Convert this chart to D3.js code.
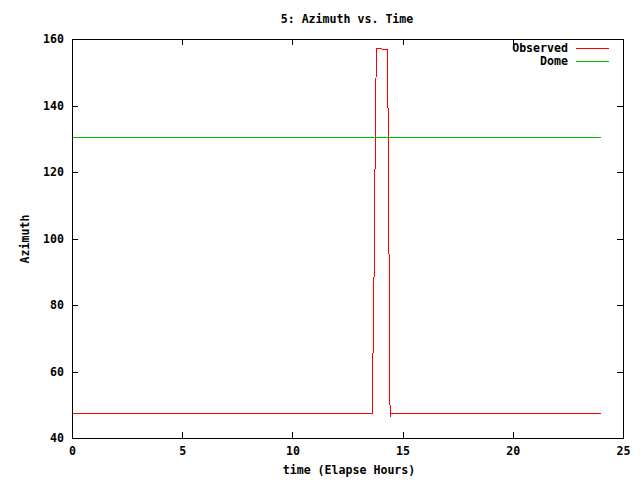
<!DOCTYPE html>
<html>
<head>
<meta charset="utf-8">
<script src="https://cdn.jsdelivr.net/npm/d3@7"></script>
<style>
  html, body { margin: 0; padding: 0; background: #fff; }
  svg { display: block; }
  text { font-family: "DejaVu Sans Mono", "Liberation Mono", monospace; font-weight: bold; font-size: 11.6px; fill: #000; }
</style>
</head>
<body>
<svg id="chart" width="640" height="480"></svg>
<script>
// ---- data ----
const title = "5: Azimuth vs. Time";
const xLabel = "time (Elapse Hours)";
const yLabel = "Azimuth";
const seriesNames = ["Observed", "Dome"];
const xTicks = [0, 5, 10, 15, 20, 25];
const yTicks = [40, 60, 80, 100, 120, 140, 160];

const observedTime  = [0, 13.59, 13.61, 13.66, 13.70, 13.75, 13.79, 14.03, 14.05, 14.29, 14.33, 14.38, 14.41, 14.43, 24];
const observedValue = [47.4, 47.4, 56.6, 74.7, 102.0, 138.9, 157.4, 157.4, 156.9, 156.9, 129.4, 74.0, 46.4, 47.4, 47.4];
const domeTime  = [0, 24];
const domeValue = [130.4, 130.4];

// ---- chart ----
const svg = d3.select("#chart");
const W = 640, H = 480;
svg.append("rect").attr("width", W).attr("height", H).attr("fill", "#fff");

const L = 72, R = 623, T = 39, B = 438;
const x = d3.scaleLinear().domain([0, 25]).range([L, R]);
const y = d3.scaleLinear().domain([40, 160]).range([B, T]);

const colors = ["#ff0000", "#00c000"];

function styleAxis(g, hideText) {
  g.selectAll("path").remove();
  g.selectAll("line").attr("stroke", "#000").attr("shape-rendering", "crispEdges");
  g.selectAll("text").attr("font-family", null).attr("font-size", null).attr("fill", "#000");
  if (hideText) g.selectAll("text").remove();
}

svg.append("g").attr("transform", `translate(0,${B})`)
  .call(d3.axisBottom(x).tickValues(xTicks).tickSize(-6).tickPadding(9).tickFormat(d3.format("d")))
  .call(g => styleAxis(g, false));
svg.append("g").attr("transform", `translate(0,${T})`)
  .call(d3.axisTop(x).tickValues(xTicks).tickSize(-6))
  .call(g => styleAxis(g, true));
svg.append("g").attr("transform", `translate(${L},0)`)
  .call(d3.axisLeft(y).tickValues(yTicks).tickSize(-6).tickPadding(8).tickFormat(d3.format("d")))
  .call(g => styleAxis(g, false));
svg.append("g").attr("transform", `translate(${R},0)`)
  .call(d3.axisRight(y).tickValues(yTicks).tickSize(-6))
  .call(g => styleAxis(g, true));

// border
svg.append("rect")
  .attr("x", L + 0.5).attr("y", T + 0.5)
  .attr("width", R - L).attr("height", B - T)
  .attr("fill", "none").attr("stroke", "#000").attr("stroke-width", 1)
  .attr("shape-rendering", "crispEdges");

const line = d3.line().x(d => x(d[0]) + 0.5).y(d => y(d[1]) + 0.5);
const observed = observedTime.map((t, i) => [t, observedValue[i]]);
const dome = domeTime.map((t, i) => [t, domeValue[i]]);

[observed, dome].forEach((data, i) => {
  svg.append("path").datum(data)
    .attr("d", line)
    .attr("fill", "none")
    .attr("stroke", colors[i])
    .attr("stroke-width", 1)
    .attr("shape-rendering", "crispEdges");
});

// legend
const legend = svg.append("g");
seriesNames.forEach((name, i) => {
  const ly = 48 + i * 13;
  legend.append("text").attr("x", 568).attr("y", ly).attr("dy", "0.35em")
    .attr("text-anchor", "end").text(name);
  legend.append("line").attr("x1", 576).attr("x2", 609)
    .attr("y1", ly + 0.5).attr("y2", ly + 0.5)
    .attr("stroke", colors[i]).attr("stroke-width", 1)
    .attr("shape-rendering", "crispEdges");
});

// title & labels
svg.append("text").attr("x", 347).attr("y", 19).attr("dy", "0.35em")
  .attr("text-anchor", "middle").text(title);
svg.append("text").attr("x", 349).attr("y", 470).attr("dy", "0.35em")
  .attr("text-anchor", "middle").text(xLabel);
svg.append("text").attr("transform", "translate(25,239) rotate(-90)")
  .attr("dy", "0.35em").attr("text-anchor", "middle").text(yLabel);
</script>
</body>
</html>
